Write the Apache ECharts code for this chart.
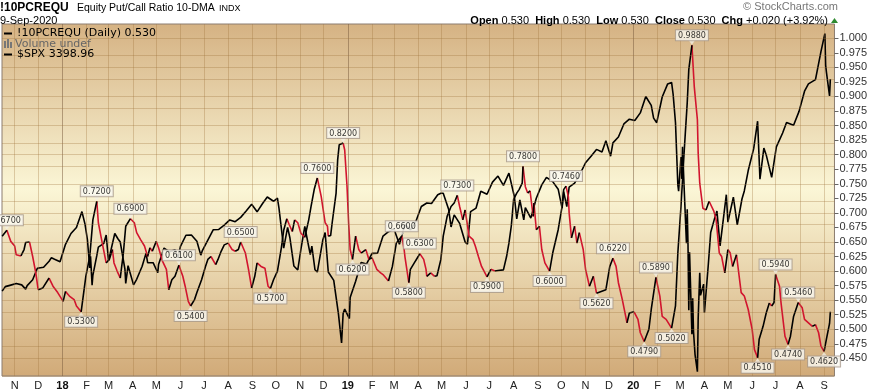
<!DOCTYPE html>
<html><head><meta charset="utf-8">
<script src="https://cdn.jsdelivr.net/npm/echarts@6/dist/echarts.min.js"></script>
<style>html,body{margin:0;padding:0;background:#fff}#c{width:870px;height:391px}</style>
</head><body><div id="c"></div>
<script>
// ---------- DATA ----------
const pcrDates = ['2017-10-16','2017-10-22','2017-10-27','2017-11-01','2017-11-03','2017-11-09','2017-11-13','2017-11-15','2017-11-20','2017-11-24','2017-11-28','2017-12-01','2017-12-07','2017-12-15','2017-12-20','2017-12-26',
'2018-01-02','2018-01-05','2018-01-10','2018-01-16','2018-01-19','2018-01-25','2018-01-31','2018-02-05','2018-02-09','2018-02-14','2018-02-16','2018-02-21','2018-02-26','2018-03-02','2018-03-06','2018-03-08','2018-03-12','2018-03-16','2018-03-20','2018-03-23','2018-03-29',
'2018-04-03','2018-04-06','2018-04-11','2018-04-16','2018-04-20','2018-04-23','2018-04-26','2018-05-01','2018-05-04','2018-05-09','2018-05-14','2018-05-17','2018-05-21','2018-05-25','2018-05-30',
'2018-06-04','2018-06-07','2018-06-11','2018-06-14','2018-06-19','2018-06-22','2018-06-28','2018-07-03','2018-07-06','2018-07-10','2018-07-16','2018-07-19','2018-07-23','2018-07-27','2018-08-01','2018-08-06','2018-08-10','2018-08-14','2018-08-17','2018-08-23','2018-08-27','2018-08-31',
'2018-09-04','2018-09-07','2018-09-12','2018-09-17','2018-09-21','2018-09-24','2018-09-28','2018-10-03','2018-10-08','2018-10-11','2018-10-15','2018-10-18','2018-10-22','2018-10-25','2018-10-29','2018-11-02','2018-11-07','2018-11-12','2018-11-15','2018-11-19','2018-11-23','2018-11-28',
'2018-12-03','2018-12-06','2018-12-07','2018-12-10','2018-12-12','2018-12-17','2018-12-19','2018-12-21','2018-12-26','2018-12-28','2018-12-31',
'2019-01-02','2019-01-04','2019-01-07','2019-01-11','2019-01-15','2019-01-18','2019-01-24','2019-01-28','2019-02-01','2019-02-07','2019-02-12','2019-02-15','2019-02-22','2019-02-27','2019-03-04','2019-03-08','2019-03-11','2019-03-14','2019-03-15','2019-03-20','2019-03-22','2019-03-27',
'2019-04-01','2019-04-03','2019-04-08','2019-04-11','2019-04-12','2019-04-17','2019-04-22','2019-04-25','2019-04-30','2019-05-03','2019-05-08','2019-05-13','2019-05-17','2019-05-21','2019-05-24','2019-05-28','2019-05-31',
'2019-06-05','2019-06-10','2019-06-13','2019-06-17','2019-06-21','2019-06-28','2019-07-03','2019-07-08','2019-07-12','2019-07-19','2019-07-23','2019-07-26','2019-07-29','2019-08-01','2019-08-05','2019-08-08','2019-08-12','2019-08-13','2019-08-16','2019-08-19','2019-08-22','2019-08-26','2019-08-27','2019-08-30',
'2019-09-03','2019-09-06','2019-09-10','2019-09-16','2019-09-20','2019-09-27','2019-10-02','2019-10-04','2019-10-07','2019-10-10','2019-10-11','2019-10-14','2019-10-18','2019-10-21','2019-10-24','2019-10-29','2019-11-01','2019-11-06','2019-11-11','2019-11-15','2019-11-21','2019-11-27',
'2019-12-02','2019-12-06','2019-12-10','2019-12-13','2019-12-18','2019-12-24','2019-12-27','2020-01-02','2020-01-07','2020-01-10','2020-01-15','2020-01-21','2020-01-24','2020-01-30','2020-02-04','2020-02-07','2020-02-12','2020-02-19','2020-02-24','2020-02-27',
'2020-03-02','2020-03-06','2020-03-10','2020-03-12','2020-03-16','2020-03-19','2020-03-23','2020-03-24','2020-03-26','2020-03-30','2020-04-03','2020-04-07','2020-04-13','2020-04-16','2020-04-20','2020-04-23','2020-04-27','2020-05-01','2020-05-04','2020-05-07','2020-05-12','2020-05-14','2020-05-18','2020-05-22','2020-05-27',
'2020-06-01','2020-06-04','2020-06-08','2020-06-10','2020-06-15','2020-06-19','2020-06-23','2020-06-26','2020-06-29','2020-07-01','2020-07-06','2020-07-08','2020-07-13','2020-07-17','2020-07-20','2020-07-24','2020-07-30','2020-08-04','2020-08-07','2020-08-12','2020-08-17','2020-08-21','2020-08-25','2020-08-28','2020-09-01','2020-09-04','2020-09-08','2020-09-09'];
const pcrValues = [0.660,0.670,0.651,0.643,0.628,0.626,0.637,0.649,0.650,0.625,0.597,0.568,0.571,0.588,0.574,0.563,
0.548,0.565,0.557,0.551,0.540,0.530,0.591,0.625,0.688,0.720,0.683,0.648,0.614,0.620,0.637,0.614,0.600,0.588,0.631,0.677,0.690,
0.683,0.666,0.654,0.643,0.625,0.640,0.634,0.651,0.640,0.617,0.603,0.568,0.585,0.591,0.610,
0.591,0.574,0.548,0.540,0.551,0.563,0.585,0.608,0.620,0.625,0.611,0.620,0.634,0.645,0.648,0.637,0.634,0.637,0.650,0.631,0.603,0.571,
0.591,0.614,0.608,0.605,0.574,0.570,0.585,0.600,0.640,0.670,0.690,0.680,0.668,0.688,0.683,0.665,0.658,0.688,0.711,0.740,0.760,0.728,
0.683,0.677,0.660,0.661,0.683,0.734,0.791,0.817,0.820,0.808,0.745,
0.683,0.637,0.620,0.660,0.637,0.631,0.637,0.620,0.623,0.603,0.597,0.594,0.583,0.608,0.648,0.655,0.660,0.637,0.625,0.580,0.603,0.614,
0.625,0.630,0.620,0.603,0.591,0.597,0.591,0.592,0.620,0.660,0.694,0.711,0.717,0.730,0.711,0.688,0.705,
0.660,0.654,0.643,0.625,0.608,0.590,0.603,0.600,0.601,0.602,0.625,0.648,0.677,0.723,0.734,0.740,0.751,0.780,0.745,0.734,0.738,0.694,0.717,0.671,
0.677,0.637,0.614,0.600,0.631,0.671,0.711,0.740,0.746,0.728,0.700,0.657,0.677,0.648,0.666,0.637,0.603,0.574,0.591,0.562,0.565,0.568,
0.608,0.622,0.608,0.580,0.551,0.511,0.528,0.530,0.517,0.494,0.479,0.500,0.534,0.589,0.557,0.522,0.517,0.502,0.540,0.631,
0.711,0.803,0.889,0.946,0.988,0.917,0.860,0.803,0.751,0.708,0.705,0.720,0.703,0.688,0.631,0.625,0.597,0.637,0.631,0.608,0.628,0.625,0.563,0.557,0.534,
0.500,0.465,0.451,0.483,0.505,0.528,0.545,0.540,0.546,0.594,0.574,0.545,0.488,0.474,0.488,0.522,0.546,0.537,0.517,0.511,0.505,0.508,0.494,0.471,0.462,0.483,0.510,0.530];

const spxDates = ['2017-10-16','2017-10-20','2017-10-27','2017-11-03','2017-11-10','2017-11-15','2017-11-17','2017-11-24','2017-11-30','2017-12-01','2017-12-08','2017-12-15','2017-12-18','2017-12-22','2017-12-29',
'2018-01-05','2018-01-12','2018-01-19','2018-01-26','2018-01-30','2018-02-02','2018-02-05','2018-02-06','2018-02-08','2018-02-09','2018-02-14','2018-02-16','2018-02-23','2018-02-26','2018-03-01','2018-03-02','2018-03-09','2018-03-13','2018-03-16','2018-03-22','2018-03-23','2018-03-26',
'2018-04-02','2018-04-06','2018-04-13','2018-04-18','2018-04-20','2018-04-27','2018-05-03','2018-05-04','2018-05-11','2018-05-18','2018-05-25','2018-05-29','2018-06-01','2018-06-08','2018-06-15','2018-06-22','2018-06-27','2018-06-29',
'2018-07-06','2018-07-13','2018-07-20','2018-07-27','2018-08-03','2018-08-10','2018-08-17','2018-08-24','2018-08-31','2018-09-07','2018-09-14','2018-09-20','2018-09-28','2018-10-03','2018-10-05','2018-10-11','2018-10-16','2018-10-19','2018-10-24','2018-10-26','2018-10-29',
'2018-11-02','2018-11-07','2018-11-09','2018-11-14','2018-11-16','2018-11-20','2018-11-23','2018-11-30','2018-12-03','2018-12-07','2018-12-14','2018-12-20','2018-12-24','2018-12-26','2018-12-28',
'2019-01-03','2019-01-04','2019-01-11','2019-01-18','2019-01-25','2019-02-01','2019-02-08','2019-02-15','2019-02-22','2019-03-01','2019-03-08','2019-03-15','2019-03-22','2019-03-29','2019-04-05','2019-04-12','2019-04-18','2019-04-26','2019-04-30','2019-05-03','2019-05-10','2019-05-13','2019-05-17','2019-05-24','2019-05-31',
'2019-06-03','2019-06-07','2019-06-14','2019-06-20','2019-06-28','2019-07-05','2019-07-12','2019-07-19','2019-07-26','2019-08-02','2019-08-05','2019-08-09','2019-08-14','2019-08-16','2019-08-23','2019-08-30','2019-09-06','2019-09-12','2019-09-20','2019-09-27','2019-10-02','2019-10-04','2019-10-08','2019-10-11','2019-10-18','2019-10-25',
'2019-11-01','2019-11-08','2019-11-15','2019-11-22','2019-11-27','2019-12-03','2019-12-06','2019-12-13','2019-12-20','2019-12-27',
'2020-01-03','2020-01-10','2020-01-17','2020-01-24','2020-01-27','2020-01-31','2020-02-07','2020-02-14','2020-02-19','2020-02-21','2020-02-24','2020-02-27','2020-02-28','2020-03-02','2020-03-03','2020-03-04','2020-03-06','2020-03-09','2020-03-10','2020-03-11','2020-03-12','2020-03-13','2020-03-16','2020-03-17','2020-03-18','2020-03-20','2020-03-23','2020-03-24','2020-03-26','2020-03-27','2020-03-31',
'2020-04-01','2020-04-06','2020-04-09','2020-04-14','2020-04-17','2020-04-21','2020-04-29','2020-05-01','2020-05-08','2020-05-13','2020-05-19','2020-05-22','2020-05-27','2020-06-03','2020-06-08','2020-06-11','2020-06-16','2020-06-19','2020-06-26','2020-07-02','2020-07-10','2020-07-15','2020-07-24','2020-07-31','2020-08-07','2020-08-12','2020-08-21','2020-08-28','2020-09-02','2020-09-03','2020-09-04','2020-09-08','2020-09-09'];
const spxValues = [2557,2575,2581,2587,2582,2565,2579,2602,2648,2642,2652,2676,2690,2684,2674,
2743,2786,2810,2873,2822,2762,2649,2695,2581,2620,2698,2732,2747,2780,2678,2691,2786,2765,2752,2644,2588,2658,
2582,2604,2656,2708,2670,2670,2630,2663,2728,2713,2721,2690,2735,2779,2780,2755,2700,2718,
2760,2801,2802,2819,2840,2833,2850,2875,2902,2872,2905,2931,2914,2926,2886,2728,2810,2768,2657,2658,2641,
2723,2814,2781,2702,2736,2642,2633,2760,2790,2633,2600,2467,2351,2468,2486,
2448,2532,2596,2671,2665,2707,2708,2776,2793,2804,2743,2822,2800,2834,2893,2907,2905,2940,2946,2946,2881,2812,2860,2826,2752,
2744,2873,2887,2954,2942,2990,3014,2977,3026,2932,2844,2919,2840,2889,2847,2926,2979,3009,2992,2962,2887,2952,2893,2970,2986,3023,
3067,3093,3120,3110,3154,3093,3146,3169,3221,3240,
3235,3265,3330,3295,3244,3226,3328,3380,3386,3338,3226,2979,2954,3090,3003,3130,2972,2747,2882,2741,2481,2711,2386,2529,2398,2305,2237,2447,2630,2541,2585,
2471,2664,2790,2846,2875,2737,2940,2831,2930,2820,2923,2955,3036,3123,3232,3002,3125,3098,3009,3130,3185,3227,3216,3271,3351,3380,3397,3508,3580,3455,3427,3332,3399];

// annotated turning points: 1 = peak (label above), 0 = trough (label below)
const annDates = ['2017-10-22','2018-01-25','2018-02-14','2018-03-29','2018-05-30','2018-06-14','2018-08-17','2018-09-24','2018-11-23','2018-12-26','2019-01-07','2019-03-11','2019-03-20','2019-04-03','2019-05-21','2019-06-28','2019-08-13','2019-09-16','2019-10-07','2019-11-15','2019-12-06','2020-01-15','2020-01-30','2020-02-19','2020-03-16','2020-06-08','2020-07-01','2020-07-17','2020-07-30','2020-09-01'];
const annValues = [0.6700,0.5300,0.7200,0.6900,0.6100,0.5400,0.6500,0.5700,0.7600,0.8200,0.6200,0.6600,0.5800,0.6300,0.7300,0.5900,0.7800,0.6000,0.7460,0.5620,0.6220,0.4790,0.5890,0.5020,0.9880,0.4510,0.5940,0.4740,0.5460,0.4620];
const annPeak = [1,0,1,1,1,0,1,0,1,1,0,1,0,1,1,0,1,0,1,0,1,0,1,0,1,0,1,0,1,0];

const yTickValues = [0.450,0.475,0.500,0.525,0.550,0.575,0.600,0.625,0.650,0.675,0.700,0.725,0.750,0.775,0.800,0.825,0.850,0.875,0.900,0.925,0.950,0.975,1.000];
const yGridValues = [0.425].concat(yTickValues);
const monthTickDates = ['2017-11-01','2017-12-01','2018-01-01','2018-02-01','2018-03-01','2018-04-01','2018-05-01','2018-06-01','2018-07-01','2018-08-01','2018-09-01','2018-10-01','2018-11-01','2018-12-01',
'2019-01-01','2019-02-01','2019-03-01','2019-04-01','2019-05-01','2019-06-01','2019-07-01','2019-08-01','2019-09-01','2019-10-01','2019-11-01','2019-12-01',
'2020-01-01','2020-02-01','2020-03-01','2020-04-01','2020-05-01','2020-06-01','2020-07-01','2020-08-01','2020-09-01'];
const monthTickLabels = ['N','D','18','F','M','A','M','J','J','A','S','O','N','D','19','F','M','A','M','J','J','A','S','O','N','D','20','F','M','A','M','J','J','A','S'];
const yearTicks = ['18','19','20'];

// ---------- BUILD ----------
const T = s => Date.parse(s);
const pcrPts = pcrDates.map((d,i)=>[T(d), pcrValues[i]]);
const spxPts = spxDates.map((d,i)=>[T(d), spxValues[i]]);
function dirData(pts, wantUp){
  const out=[]; let lastIdx=-1;
  for(let i=0;i<pts.length-1;i++){
    const up = pts[i+1][1] >= pts[i][1];
    if(up===wantUp){
      if(lastIdx!==i) out.push(pts[i]);
      out.push(pts[i+1]); lastIdx=i+1;
    } else if(lastIdx===i){
      out.push([(pts[i][0]+pts[i+1][0])/2, '-']);
    }
  }
  return out;
}
const monthTs = monthTickDates.map(T);
const labelByTs = {}; monthTs.forEach((t,i)=>labelByTs[t]=monthTickLabels[i]);
const peaks=[], troughs=[];
annDates.forEach((d,i)=>{ (annPeak[i]?peaks:troughs).push([T(d), annValues[i]]); });

const chart = echarts.init(document.getElementById('c'), null, {renderer:'canvas'});
const gridLineColor = 'rgba(160,115,60,0.32)';
const annLabel = {
  show:true, formatter:p=>p.value[1].toFixed(4), fontFamily:'DejaVu Sans', fontSize:8, color:'#000',
  backgroundColor:'#fbfaf3', borderColor:'#a89a8c', borderWidth:1, padding:[1,2,0,2], lineHeight:9, distance:5
};
chart.setOption({
  animation:false,
  grid:{left:2, top:24, width:836.5, height:352.5, show:true, borderColor:'#8b7d70', borderWidth:1,
    backgroundColor:new echarts.graphic.LinearGradient(0,0,0,1,[{offset:0,color:'#d5b283'},{offset:0.47,color:'#fbf6d6'},{offset:1,color:'#d1aa78'}])},
  xAxis:{type:'value', min:T('2017-10-15T19:00:00Z'), max:T('2020-09-14T07:00:00Z'),
    axisLine:{show:false}, axisTick:{show:false}, splitLine:{show:false},
    axisLabel:{customValues:monthTs, margin:4, fontFamily:'Liberation Sans', fontSize:11, color:'#222', hideOverlap:false,
      formatter:v=>{const l=labelByTs[v]||''; return yearTicks.includes(l)?'{y|'+l+'}':l;},
      rich:{y:{fontWeight:'bold', fontFamily:'Liberation Sans', fontSize:11, color:'#111'}}}},
  yAxis:[{type:'value', position:'right', min:0.4197, max:1.0245,
    axisLine:{show:false}, splitLine:{show:false},
    axisTick:{show:true, customValues:yTickValues, length:4, lineStyle:{color:'#666'}},
    axisLabel:{customValues:yTickValues, margin:5, fontFamily:'Liberation Sans', fontSize:11, color:'#333', formatter:v=>v.toFixed(3)}},
   {type:'value', min:2220, max:3618, show:false}],
  graphic:[
    {type:'text', x:0, y:8, style:{text:'!10PCREQU', font:'bold 12px "Liberation Sans"', fill:'#000', verticalAlign:'middle'}},
    {type:'text', x:77, y:8, style:{text:'Equity Put/Call Ratio 10-DMA', font:'10.5px "Liberation Sans"', fill:'#000', verticalAlign:'middle'}},
    {type:'text', x:219, y:8.5, style:{text:'INDX', font:'9px "Liberation Sans"', fill:'#000', verticalAlign:'middle'}},
    {type:'text', x:0, y:20.5, style:{text:'9-Sep-2020', font:'11px "Liberation Sans"', fill:'#000', verticalAlign:'middle'}},
    {type:'text', x:838, y:7, style:{text:'© StockCharts.com', font:'11px "Liberation Sans"', fill:'#777', align:'right', verticalAlign:'middle'}},
    {type:'text', x:828, y:20.5, style:{text:'{b|Open} 0.530  {b|High} 0.530  {b|Low} 0.530  {b|Close} 0.530  {b|Chg} +0.020 (+3.92%)', font:'11px "Liberation Sans"', fill:'#000', align:'right', verticalAlign:'middle',
      rich:{b:{font:'bold 11px "Liberation Sans"', fill:'#000'}}}},
    {type:'polygon', shape:{points:[[831,23],[838,23],[834.5,18]]}, style:{fill:'#2f8a2f'}},
    {type:'rect', shape:{x:4,y:32.5,width:8,height:2}, style:{fill:'#000'}, z:100},
    {type:'text', x:17, y:33.5, style:{text:'!10PCREQU (Daily) 0.530', font:'11px "DejaVu Sans"', fill:'#000', verticalAlign:'middle'}, z:100},
    {type:'rect', shape:{x:4,y:41,width:2,height:7}, style:{fill:'#777'}, z:100},
    {type:'rect', shape:{x:7,y:39,width:2,height:9}, style:{fill:'#777'}, z:100},
    {type:'rect', shape:{x:10,y:42,width:2,height:6}, style:{fill:'#777'}, z:100},
    {type:'text', x:15, y:44, style:{text:'Volume undef', font:'11px "DejaVu Sans"', fill:'#666', verticalAlign:'middle'}, z:100},
    {type:'rect', shape:{x:4,y:53.5,width:8,height:2}, style:{fill:'#000'}, z:100},
    {type:'text', x:17, y:54.5, style:{text:'$SPX 3398.96', font:'11px "DejaVu Sans"', fill:'#000', verticalAlign:'middle'}, z:100}
  ],
  series:[
    {type:'line', name:'grid', data:[], silent:true, z:1,
      markLine:{silent:true, symbol:['none','none'], label:{show:false}, animation:false,
        data: monthTs.map((t,i)=>({xAxis:t, lineStyle:{type:'solid', width:1, color: yearTicks.includes(monthTickLabels[i])?'rgba(120,90,60,0.5)':gridLineColor}}))
          .concat(yGridValues.map(v=>({yAxis:v, lineStyle:{type:'solid', width:1, color:gridLineColor}})))}},
    {type:'line', name:'$SPX', yAxisIndex:1, data:spxPts, showSymbol:false, lineStyle:{color:'#000', width:1.6}, z:3},
    {type:'line', name:'down', data:dirData(pcrPts,false), showSymbol:false, connectNulls:false, lineStyle:{color:'#d2142e', width:1.6}, z:4},
    {type:'line', name:'up', data:dirData(pcrPts,true), showSymbol:false, connectNulls:false, lineStyle:{color:'#000', width:1.6}, z:4},
    {type:'scatter', data:peaks, symbol:'triangle', symbolSize:[7,5], symbolRotate:180, symbolOffset:[0,-3], itemStyle:{color:'#f3efe4'}, z:5, silent:true},
    {type:'scatter', data:troughs, symbol:'triangle', symbolSize:[7,5], symbolOffset:[0,3], itemStyle:{color:'#f3efe4'}, z:5, silent:true},
    {type:'scatter', data:peaks, symbolSize:0, label:Object.assign({position:'top'}, annLabel), z:6, silent:true},
    {type:'scatter', data:troughs, symbolSize:0, label:Object.assign({position:'bottom'}, annLabel), z:6, silent:true}
  ]
});
</script></body></html>
